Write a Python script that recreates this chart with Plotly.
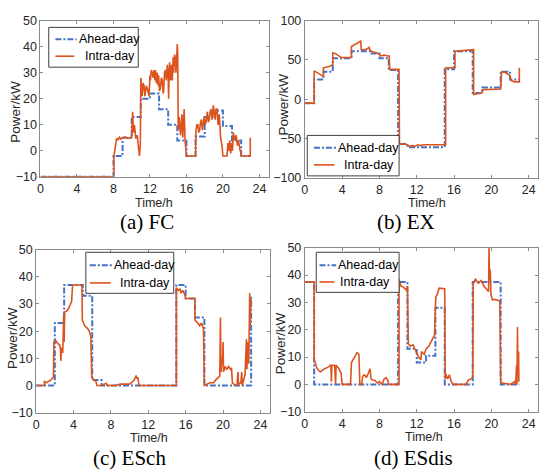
import plotly.graph_objects as go

# ---------------- data ----------------
HOURS = [0, 1, 2, 3, 4, 5, 6, 7, 8, 9, 10, 11, 12, 13, 14, 15, 16, 17, 18, 19, 20, 21, 22, 23]

FC_AHEAD = [-10, -10, -10, -10, -10, -10, -10, -10, -2, 5, 13, 20, 22, 16, 10, 4, -2, 5.5, 13, 15.5, 9.5, 4, -2, -2]
EX_AHEAD = [-5, 25, 35, 52, 52, 61, 61, 58, 52, 37, -57, -61, -61, -61, -61, 38, 61, 61, 8, 15, 15, 35, 25, 25]
ESCH_AHEAD = [0, 0, 23, 37, 37, 33, 2, 0, 0, 0, 0, 0, 0, 0, 0, 37, 32, 25, 0, 0, 0, 0, 0, 33]
ESDIS_AHEAD = [37.5, 0, 0, 0, 0, 0, 0, 0, 0, 0, 37.5, 13, 8, 10.5, 28, 0, 0, 0, 37.5, 37.5, 37.5, 0, 0, 0]

FC_INTRA_T = [0, 8.05, 8.05, 8.2, 8.35, 8.5, 8.65, 8.8, 9.0, 9.3, 9.6, 9.9, 10.0, 10.1, 10.2, 10.3, 10.45,
              10.6, 10.75, 10.85, 10.95, 11.0, 11.1, 11.15, 11.25, 11.35, 11.45, 11.5, 11.6, 11.7, 11.8,
              11.9, 12.0, 12.05, 12.15, 12.25, 12.35, 12.45, 12.55, 12.6, 12.7, 12.8, 12.9, 12.95, 13.05,
              13.15, 13.25, 13.35, 13.45, 13.5, 13.6, 13.7, 13.8, 13.9, 14.0, 14.05, 14.1, 14.15, 14.2,
              14.25, 14.35, 14.45, 14.55, 14.6, 14.7, 14.8, 14.85, 14.9,
              15.0, 15.05, 15.1, 15.2, 15.3, 15.35, 15.45, 15.5, 15.6, 15.7, 15.75, 15.85, 16.0, 17.0,
              17.05, 17.15, 17.25, 17.35, 17.45, 17.55,
              17.65, 17.75, 17.8, 17.95, 18.05, 18.15, 18.25, 18.3, 18.4, 18.5, 18.6, 18.7, 18.8, 18.85,
              18.95, 19.05, 19.15, 19.25, 19.35, 19.45, 19.5, 19.6, 19.75,
              19.9, 20.0, 20.45, 20.55, 20.65, 20.75, 20.85, 20.95, 21.05, 21.15, 21.3, 21.45, 21.6, 21.7,
              21.9, 22.05, 23.0, 23.0]
FC_INTRA_V = [-10, -10, -2, 1.5, 4.8, 4.2, 5.2, 4.5, 5, 5.3, 4.8, 5, 5, 15, 7, 10, 4.7,
              6, 2, -2, 3, 28, 23, 21, 26, 25, 21, 22, 25, 24, 22,
              21, 29, 27, 31, 30, 28, 31, 27, 31, 26, 30, 25, 29, 23,
              24, 28, 27, 22, 23, 30, 31, 27, 33, 29, 20, 30, 34, 31,
              27, 33, 27, 36, 30, 37, 35, 30, 35,
              41, 37, 8, 13, 7, 6, 11, 14, 5, 12, 16, 4, -2, -2,
              8, 10, 10, 7, 8, 11,
              12, 8, 9, 13, 10, 11, 14, 15, 11, 12, 15, 16, 12, 13,
              17.5, 14, 12, 16, 16, 11, 10, 14, 5,
              2, -2, -2, 3, 0, 4, -1, 3, 0, 7, 4, 6, 2, 4,
              0, -2, -2, 5]

EX_INTRA_T = [0, 1, 1, 1.3, 1.6, 1.9, 2, 2, 2.4, 2.7, 3, 3, 3.3, 3.6, 3.9, 4, 5, 5, 5.5, 6, 6.05, 6.4,
              6.7, 6.9, 7.0, 7.3, 7.7, 8.0, 8.1, 8.5, 8.9, 9.05, 9.1, 10.1, 10.15, 10.6, 11.0, 11.2, 11.5,
              11.8, 12.1, 12.4, 12.7, 13, 15.1, 15.1, 16.1, 16.1, 17, 18.1, 18.1, 18.5, 19, 19.1, 20, 21,
              21.1, 21.5, 22, 22.1, 22.5, 23, 23]
EX_INTRA_V = [-5, -5, 36, 34, 31, 29, 29, 40, 41, 42, 44, 59, 58, 55, 53, 53, 53, 67, 70, 74, 63, 63,
              64, 66, 62, 60, 59, 57, 55, 56, 55, 55, 38, 38, -57, -57, -58, -60, -59,
              -60, -58, -59, -58, -58, -58, 40, 40, 61, 62, 63, 6, 7, 8, 12, 12.5, 13,
              35, 34, 30, 24, 22, 22, 40]

ESCH_INTRA_T = [0, 0.85, 0.9, 1.1, 1.3, 1.5, 1.7, 1.85, 1.9, 2.1, 2.3, 2.5, 2.6, 2.65, 2.7, 2.85, 2.95,
                3.0, 3.05, 3.3, 3.5, 3.7, 3.8, 3.9, 4.9, 4.95, 5.2, 5.5, 5.7, 5.85, 5.95, 6.2, 6.4, 6.5,
                7.0, 7.5, 7.6, 8.5, 9, 10, 10.2, 10.5, 10.7, 10.8, 10.9, 11.0, 15.0, 15.0, 15.2, 15.4,
                15.5, 15.7, 15.9, 16.0, 17.0, 17.0, 17.3, 17.5, 17.7, 17.9, 18.0, 18.3, 18.6, 19.0, 19.2,
                19.5, 19.65, 19.72, 19.78, 19.9, 19.95, 20.0, 20.05, 20.2, 20.4, 20.6, 20.8, 20.9, 21.0,
                21.3, 21.5, 21.6, 21.65, 21.9, 22.0, 22.05, 22.2, 22.35, 22.5, 22.55, 22.65, 22.75,
                22.85, 22.9, 22.95, 23.0]
ESCH_INTRA_V = [0, 0, 1.5, 1, 1.5, 1.8, 2.5, 3, 16, 16.5, 15.5, 15, 13.5, 9, 14, 12, 26,
                16, 27, 27.5, 28.5, 30, 31, 37, 37, 24, 22, 21, 20, 18, 3, 2, 1.5, 0,
                0, 0.8, 0, 0, 0.5, 0.5, 1, 2, 3.7, 2.5, 3, 0, 0, 36, 35, 35.5,
                34, 35, 33.5, 32, 32, 24, 23, 22, 23, 21, 0, 0.5, 1, 1, 2,
                3, 3.5, 25, 5, 10, 8, 16, 5, 7, 6, 7, 6, 6.5, 1,
                0, 0.5, 5, 0.5, 1, 5, 0, 2, 4, 17, 6, 16, 8,
                34, 22, 30, 32]

ESDIS_INTRA_T = [0, 1, 1, 1.1, 1.3, 1.5, 1.7, 2.0, 2.3, 2.6, 2.8, 2.85, 2.9, 3.2, 3.3, 3.35, 3.6, 3.9,
                 4.0, 4.9, 5.0, 5.3, 5.6, 5.8, 5.9, 6.1, 6.2, 6.4, 6.6, 6.8, 7.0, 7.1, 7.3, 7.5, 7.8,
                 8.0, 8.3, 8.5, 8.7, 8.9, 9.0, 10.1, 10.1, 10.3, 10.6, 10.9, 11.0, 11.1, 11.3, 11.6,
                 11.8, 12.0, 12.2, 12.45, 12.5, 12.8, 13.0, 13.3, 13.6, 13.9, 14.0, 14.05, 14.2, 14.4,
                 15.0, 15.05, 15.1, 15.3, 15.5, 15.7, 15.9, 17.3, 17.5, 17.8, 18.0, 18.05, 18.3, 18.6,
                 18.9, 19.2, 19.5, 19.7, 19.75, 19.8, 19.88, 19.95, 20.1, 20.5, 20.9, 21.0, 21.2, 22.0,
                 22.5, 22.6, 22.7, 22.75, 22.8, 22.85, 22.92, 22.95]
ESDIS_INTRA_V = [37.5, 37.5, 9, 7.8, 6, 5, 4.6, 5.5, 6, 6.5, 7.2, 1, 7, 7, 0, 7, 6, 4,
                 0, 0, 8, 10, 11.6, 11, 0, 0, 3, 3.5, 2.5, 4, 5.7, 2, 1.5, 1.5, 0.5,
                 1, 0, 2, 2.5, 1.5, 0, 0, 38.5, 36, 35.5, 34.5, 36, 15, 14, 14.5,
                 13, 11, 10, 9, 12, 11, 13, 14, 16, 18, 28, 32, 33, 35.2,
                 35, 2, 4, 2, 3.5, 1, 0, 0, 1.5, 2, 2.5, 37, 38.5, 37,
                 38, 36, 35, 34, 50, 38, 42, 33, 31, 31, 30.5, 1, 0.5, 0,
                 1, 0, 7, 0, 21, 3, 12, 1]

X_TICKS = [0, 4, 8, 12, 16, 20, 24]
Y_TICKS_A = [-10, 0, 10, 20, 30, 40, 50]
Y_TICKS_B = [-100, -50, 0, 50, 100]
CAPTIONS = ["(a) FC", "(b) EX", "(c) ESch", "(d) ESdis"]
SERIES_NAMES = ["Ahead-day", "Intra-day"]

# ---------------- layout helpers ----------------
W, H = 539, 476
def px(x):
    return x / W
def py(y):
    return 1 - y / H

BLUE = "#4472c4"
ORANGE = "#dc531e"
FRAME = "#8a8a8a"
TXT = "#262626"
SANS = "Liberation Sans, Arial, sans-serif"
SERIF = "Liberation Serif, Times New Roman, serif"

panels = [
    dict(ahead=FC_AHEAD, it=FC_INTRA_T, iv=FC_INTRA_V, xd=(37.7, 267), yd=(14, 175), yr=(-10, 50),
         yt=Y_TICKS_A, cap=(145, 221.5), xl=(152, 201.5), yl=(13, 108),
         leg=dict(box=(46, 21, 136, 62), lx=(52.7, 74, 71.7), tx=(74, 80), ry=(33.3, 50.7))),
    dict(ahead=EX_AHEAD, it=EX_INTRA_T, iv=EX_INTRA_V, xd=(303.5, 538), yd=(14, 176), yr=(-100, 100),
         yt=Y_TICKS_B, cap=(405, 221.5), xl=(426, 202), yl=(282, 100),
         leg=dict(box=(306, 132.3, 398.3, 174), lx=(312.7, 335, 333.3), tx=(335, 340.7), ry=(145, 162.7))),
    dict(ahead=ESCH_AHEAD, it=ESCH_INTRA_T, iv=ESCH_INTRA_V, xd=(33.3, 268.3), yd=(250, 418), yr=(-10, 50),
         yt=Y_TICKS_A, cap=(127.5, 465), xl=(147, 444.5), yl=(10, 341),
         leg=dict(box=(83.3, 252.7, 171.7, 295), lx=(87.3, 110, 108.3), tx=(110, 115.7), ry=(266, 284.3))),
    dict(ahead=ESDIS_AHEAD, it=ESDIS_INTRA_T, iv=ESDIS_INTRA_V, xd=(303.5, 538), yd=(248, 417), yr=(-10, 50),
         yt=Y_TICKS_A, cap=(413, 465), xl=(423, 443.5), yl=(279, 346),
         leg=dict(box=(315, 252.7, 398.3, 294), lx=(318.3, 335, 333.3), tx=(335, 336.7), ry=(266, 283.3))),
]

fig = go.Figure()
layout = dict(width=W, height=H, margin=dict(l=0, r=0, t=0, b=0), paper_bgcolor="white",
              plot_bgcolor="white", showlegend=False, annotations=[], shapes=[])

for i, p in enumerate(panels):
    k = "" if i == 0 else str(i + 1)
    xa, ya = "x" + k, "y" + k
    fig.add_trace(go.Scatter(x=HOURS, y=p["ahead"], mode="lines", line_shape="hv", name=SERIES_NAMES[0],
                             line=dict(color=BLUE, width=2, dash="6px,2px,2px,2px"), xaxis=xa, yaxis=ya))
    fig.add_trace(go.Scatter(x=p["it"], y=p["iv"], mode="lines", name=SERIES_NAMES[1],
                             line=dict(color=ORANGE, width=1.6), xaxis=xa, yaxis=ya))
    axcommon = dict(showline=True, linecolor=FRAME, linewidth=1, mirror="ticks", ticks="inside",
                    ticklen=3, tickcolor=FRAME, showgrid=False, zeroline=False,
                    tickfont=dict(family=SANS, size=12.5, color=TXT))
    layout["xaxis" + k] = dict(axcommon, domain=[px(p["xd"][0]), px(p["xd"][1])], range=[0, 25],
                               tickvals=X_TICKS, anchor=ya)
    layout["yaxis" + k] = dict(axcommon, domain=[py(p["yd"][1]), py(p["yd"][0])], range=list(p["yr"]),
                               tickvals=p["yt"], anchor=xa)
    ann = layout["annotations"]
    ann.append(dict(text=CAPTIONS[i], x=px(p["cap"][0]), y=py(p["cap"][1]), xref="paper", yref="paper",
                    showarrow=False, xanchor="center", yanchor="middle",
                    font=dict(family=SERIF, size=21, color="black")))
    ann.append(dict(text="Time/h", x=px(p["xl"][0]), y=py(p["xl"][1]), xref="paper", yref="paper",
                    showarrow=False, xanchor="center", yanchor="middle",
                    font=dict(family=SANS, size=12.5, color=TXT)))
    ann.append(dict(text="Power/kW", x=px(p["yl"][0]), y=py(p["yl"][1]), xref="paper", yref="paper",
                    showarrow=False, xanchor="center", yanchor="middle", textangle=-90,
                    font=dict(family=SANS, size=13.5, color=TXT)))
    # legend drawn as box + samples + text
    lg = p["leg"]
    bx0, by0, bx1, by1 = lg["box"]
    layout["shapes"].append(dict(type="rect", xref="paper", yref="paper", x0=px(bx0), x1=px(bx1),
                                 y0=py(by1), y1=py(by0), line=dict(color="#404040", width=1),
                                 fillcolor="white", layer="above"))
    layout["shapes"].append(dict(type="line", xref="paper", yref="paper", x0=px(lg["lx"][0]), x1=px(lg["lx"][1]),
                                 y0=py(lg["ry"][0]), y1=py(lg["ry"][0]),
                                 line=dict(color=BLUE, width=2, dash="6px,2px,2px,2px"), layer="above"))
    layout["shapes"].append(dict(type="line", xref="paper", yref="paper", x0=px(lg["lx"][0]), x1=px(lg["lx"][2]),
                                 y0=py(lg["ry"][1]), y1=py(lg["ry"][1]),
                                 line=dict(color=ORANGE, width=1.6), layer="above"))
    for j in range(2):
        ann.append(dict(text=SERIES_NAMES[j], x=px(lg["tx"][j]), y=py(lg["ry"][j]), xref="paper", yref="paper",
                        showarrow=False, xanchor="left", yanchor="middle",
                        font=dict(family=SANS, size=12.5, color="black")))

fig.update_layout(**layout)
fig.write_html("out.html")
